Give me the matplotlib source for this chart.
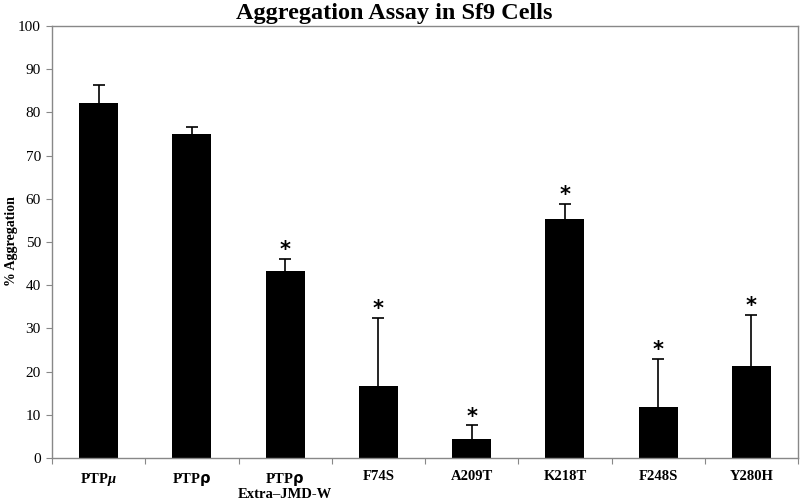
import matplotlib
matplotlib.use('Agg')
import matplotlib.pyplot as plt
import numpy as np

# Data
labels = ['PTP$\\mu$', 'PTP$\\mathsf{\u03c1}$', 'PTP$\\mathsf{\u03c1}$\nExtra\u2013JMD-W',
          'F74S', 'A209T', 'K218T', 'F248S', 'Y280H']
values = [82.2, 75.0, 43.3, 16.7, 4.4, 55.4, 11.8, 21.2]
err_top = [86.3, 76.6, 46.1, 32.4, 7.6, 58.8, 22.9, 33.1]
significant = [False, False, True, True, True, True, True, True]

plt.rcParams['font.family'] = ['Liberation Serif', 'DejaVu Sans']
plt.rcParams['mathtext.fontset'] = 'custom'
plt.rcParams['mathtext.it'] = 'Liberation Serif:italic:bold'
plt.rcParams['mathtext.rm'] = 'Liberation Serif:bold'
plt.rcParams['mathtext.sf'] = 'DejaVu Sans:bold'

fig = plt.figure(figsize=(8.0, 5.01), dpi=100)
ax = fig.add_axes([52 / 800, 43 / 501, 746 / 800, 432 / 501])

x = np.arange(len(labels))
ax.bar(x, values, width=0.42, color='black', zorder=2)
# error bars only go upward, with a cap at the top
ax.vlines(x, values, err_top, color='black', linewidth=1.2, zorder=3)
ax.plot(x, err_top, linestyle='none', marker='_', markersize=9,
        markeredgewidth=1.2, color='black', zorder=3)

# asterisks for significant results
for xi, top, sig in zip(x, err_top, significant):
    if sig:
        ax.annotate('*', (xi, top), xytext=(0, -1), textcoords='offset points',
                    ha='center', va='bottom', fontsize=15, fontweight='bold',
                    family='DejaVu Sans')

ax.set_xlim(-0.5, len(labels) - 0.5)
ax.set_ylim(0, 100)
ax.set_yticks(range(0, 101, 10))
ax.tick_params(axis='y', labelsize=11, length=4, color='#888888', pad=4)

# category boundaries get the x ticks, labels sit in the middle
ax.set_xticks(np.arange(-0.5, len(labels), 1.0))
ax.set_xticklabels([])
ax.tick_params(axis='x', length=4, color='#888888')
ax.set_xticks(x, minor=True)
ax.set_xticklabels(labels, minor=True, fontweight='bold', fontsize=10.5,
                   va='top', linespacing=1.0)
ax.tick_params(axis='x', which='minor', length=0, pad=9)

for s in ax.spines.values():
    s.set_color('#888888')
    s.set_linewidth(1.0)

ax.set_ylabel('% Aggregation', fontweight='bold', fontsize=10)
ax.yaxis.set_label_coords(-0.046, 0.502)
fig.suptitle('Aggregation Assay in Sf9 Cells', fontweight='bold', fontsize=17.5,
             x=0.493, y=0.995, va='top')

fig.savefig('out.png', dpi=100)
